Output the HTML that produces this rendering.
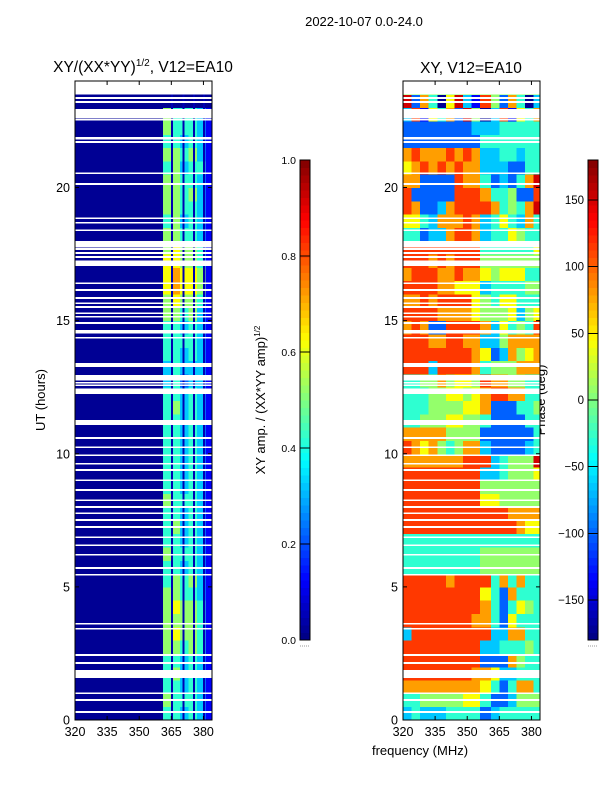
<!DOCTYPE html>
<html><head><meta charset="utf-8"><style>
html,body{margin:0;padding:0;background:#fff;}
svg{display:block;font-family:"Liberation Sans","DejaVu Sans",sans-serif;}
</style></head><body>
<svg id="fig" width="600" height="800" viewBox="0 0 600 800" xmlns="http://www.w3.org/2000/svg">
<text x="364" y="26" font-size="13" text-anchor="middle">2022-10-07 0.0-24.0</text>
<text x="143" y="72" font-size="15.5" text-anchor="middle">XY/(XX*YY)<tspan font-size="10" dy="-6">1/2</tspan><tspan dy="6">, V12=EA10</tspan></text>
<text x="471" y="73" font-size="15.5" text-anchor="middle">XY, V12=EA10</text>
<text x="45" y="400" font-size="13" text-anchor="middle" transform="rotate(-90 45 400)">UT (hours)</text>
<text x="420" y="755" font-size="13" text-anchor="middle">frequency (MHz)</text>
<text x="265" y="400" font-size="13" text-anchor="middle" transform="rotate(-90 265 400)">XY amp. / (XX*YY amp)<tspan font-size="8" dy="-5">1/2</tspan></text>
<text x="545" y="400" font-size="13" text-anchor="middle" transform="rotate(-90 545 400)">Phase (deg)</text>
<g id="plots"></g>
</svg>
<script>
const freqEdges=[320,324,328,332,336,340,344,348,352,356,361,365,369,373,377,381,384];
const channelGaps=[365.3,370.7,375.7,380.2];
const xTicks=[320,335,350,365,380];
const yTicks=[0,5,10,15,20];
const ampTicks=[0.0,0.2,0.4,0.6,0.8,1.0];
const phaseTicks=[-150,-100,-50,0,50,100,150];
// rows from 0h upward, 0.5h each; digit d -> amplitude d/10
const ampRows=[
"0000000000443431","0000000000544431","0000000000443431","0000000000453431","0000000000443431",
"0000000000554541","0000000000565541","0000000000555541","0000000000565541","0000000000554431",
"0000000000454531","0000000000443431","0000000000544431","0000000000443431","0000000000453431",
"0000000000443431","0000000000544431","0000000000443431","0000000000443431","0000000000443431",
"0000000000443431","0000000000443431","0000000000443431","0000000000453431","0000000000443431",
"0000000000342331","0000000000343331","0000000000443431","0000000000444431","0000000000443431",
"0000000000554531","0000000000565541","0000000000676651","0000000000676651","0000000000665541",
"0000000000565541","0000000000554431","0000000000453431","0000000000554431","0000000000554531",
"0000000000554431","0000000000453441","0000000000554531","0000000000443431","0000000000544431",
"0000000000544431","0000000000000000","0000000000000000"];
// digit d -> phase approx -180+(d+0.2)*36
const phaseRows=[
"3433344442344444","4455555664223555","7777777776424774","8888888877633444","8888888882227544",
"8888888883344454","3888888888337744","8888888877426444","8888888887424654","8888888886427444",
"8888878888474744","4444444445555555","4444444445555555","4444444444444444","8888888888888766",
"8888888888887777","8888888886655555","8888888885555555","8888888883345556","7777777888345559",
"8767545773222234","7777755552222224","4455566554222244","4445555667222445","4445566567887744",
"4455756658775544","8883888874555777","8888888876237567","8887788773357777","7872288887364548",
"8888777765556356","7787888865466444","8888776663444455","7888778776566644","8887878885555555",
"8888888884444446","4423378873446544","6643777873464374","8722378888745479","8222228887445228",
"7722228774232479","6787878773332244","7877787873344344","2222222224444444","2222222233344444",
"3816472950381647","9274069318527403","5555555555555555"];
// white gaps (missing data), [startHour, endHour]
const gaps=[[23.5,24],[23.33,23.39],[23.18,23.24],[22.6,22.95],[22.52,22.57],[21.8,21.9],[21.68,21.74],
[20.51,20.57],[20.1,20.16],[18.82,18.88],[18.64,18.7],[18.37,18.43],[17.75,18.0],[17.66,17.72],[17.51,17.57],
[17.36,17.42],[17.05,17.25],[16.38,16.44],[16.12,16.18],[15.82,15.88],[15.63,15.69],[15.48,15.54],[15.25,15.31],
[15.11,15.17],[14.88,14.94],[14.58,14.64],[14.51,14.57],[14.32,14.38],[13.25,13.4],[12.75,12.95],[12.63,12.69],
[12.55,12.61],[12.25,12.45],[11.08,11.27],[10.56,10.62],[10.22,10.28],[9.92,9.98],[9.59,9.65],[9.36,9.42],
[8.98,9.04],[8.61,8.67],[8.23,8.29],[7.97,8.03],[7.74,7.8],[7.48,7.54],[7.22,7.28],[6.84,6.9],[6.54,6.6],
[6.17,6.23],[5.68,5.74],[5.42,5.48],[3.58,3.64],[3.39,3.45],[2.41,2.47],[2.11,2.17],[1.58,1.88],[0.98,1.04],
[0.72,0.78],[0.27,0.33]];

const NS='http://www.w3.org/2000/svg';
const root=document.getElementById('plots');
function mk(tag,attrs,parent){const e=document.createElementNS(NS,tag);for(const k in attrs)e.setAttribute(k,attrs[k]);(parent||root).appendChild(e);return e;}
function jet(v){v=Math.max(0,Math.min(1,v));
 const r=Math.max(0,Math.min(1,Math.min(4*v-1.5,-4*v+4.5)));
 const g=Math.max(0,Math.min(1,Math.min(4*v-0.5,-4*v+3.5)));
 const b=Math.max(0,Math.min(1,Math.min(4*v+0.5,-4*v+2.5)));
 return `rgb(${Math.round(r*255)},${Math.round(g*255)},${Math.round(b*255)})`;}
const panels=[{x0:75,name:'amp',rows:ampRows,val:d=>d/10+0.02,lines:true},{x0:403,name:'phase',rows:phaseRows,val:d=>(d+0.2)/10,lines:false}];
const W=137,Y0=81,Y1=720;
function ys(h){return Y1-(h/24)*(Y1-Y0);}
panels.forEach(p=>{
 const xs=f=>p.x0+(f-320)/(384-320)*W;
 const g=mk('g',{'shape-rendering':'crispEdges'});
 
 
 p.rows.forEach((row,ri)=>{
  for(let c=0;c<freqEdges.length-1;c++){
   const d=parseInt(row[c]);
   const r=mk('rect',{x:xs(freqEdges[c]),y:ys((ri+1)*0.5),width:xs(freqEdges[c+1])-xs(freqEdges[c])+0.5,height:ys(ri*0.5)-ys((ri+1)*0.5)+0.5,fill:jet(p.val(d))},g);
   
   
  }
 });
 if(p.lines){channelGaps.forEach(f=>{
  const r=mk('rect',{x:xs(f)-1,y:Y0,width:2,height:Y1-Y0,fill:jet(0.05)},g);
  
  
 });}
 gaps.forEach(gp=>{
  const r=mk('rect',{x:p.x0,y:ys(gp[1]),width:W,height:Math.max(1.2,ys(gp[0])-ys(gp[1])),fill:'#fff'},g);
  
  
 });
 const fr=mk('rect',{x:p.x0,y:Y0,width:W,height:Y1-Y0,fill:'none',stroke:'#000','stroke-width':1});
 
 
 xTicks.forEach(t=>{const x=xs(t);
  mk('line',{x1:x,x2:x,y1:Y1,y2:Y1-4,stroke:'#000'});mk('line',{x1:x,x2:x,y1:Y0,y2:Y0+4,stroke:'#000'});
  const tx=mk('text',{x:x,y:Y1+16,'font-size':12.5,'text-anchor':'middle'});tx.textContent=t;
  
  
 });
 yTicks.forEach(t=>{const y=ys(t);
  mk('line',{x1:p.x0,x2:p.x0+4,y1:y,y2:y,stroke:'#000'});mk('line',{x1:p.x0+W,x2:p.x0+W-4,y1:y,y2:y,stroke:'#000'});
  const tx=mk('text',{x:p.x0-5,y:y+4.5,'font-size':12.5,'text-anchor':'end'});tx.textContent=t;
  
  
 });
});
function colorbar(x,name,ticks,min,max,fmt){
 const g=mk('g',{'shape-rendering':'crispEdges'});
 
 
 const top=160,bot=640,n=64;
 for(let i=0;i<n;i++){mk('rect',{x:x,y:bot-(i+1)*(bot-top)/n,width:10,height:(bot-top)/n+0.6,fill:jet((i+0.5)/n)},g);}
 mk('rect',{x:x,y:top,width:10,height:bot-top,fill:'none',stroke:'#000'},g);
 ticks.forEach(t=>{const y=bot-(t-min)/(max-min)*(bot-top);
  mk('line',{x1:x,x2:x+10,y1:y,y2:y,stroke:'#000'},g);
  const tx=mk('text',{x:x-4,y:y+4,'font-size':fmt?10.5:11.5,'text-anchor':'end'},g);tx.textContent=fmt?t.toFixed(1):(t<0?'\u2212'+(-t):t);
  
  
 });
 mk('line',{x1:x,x2:x+10,y1:646,y2:646,stroke:'#999','stroke-dasharray':'1 1'},g);
}
colorbar(300,'amp-colorbar',ampTicks,0,1,true);
colorbar(588,'phase-colorbar',phaseTicks,-180,180,false);
</script>
</body></html>
